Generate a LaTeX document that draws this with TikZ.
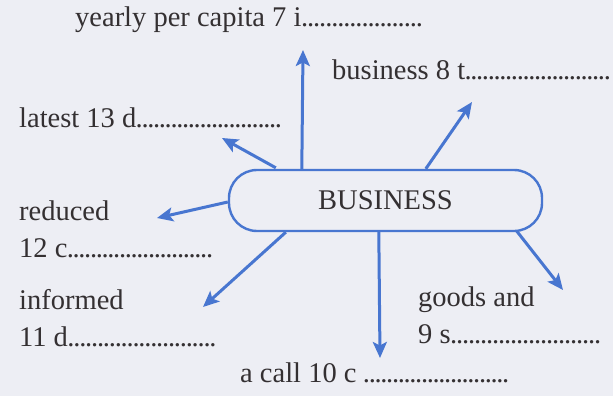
\documentclass[tikz,border=0pt]{standalone}
\usepackage{fontspec}
\setmainfont{Liberation Serif}
\definecolor{mpaper}{RGB}{237,238,244}
\definecolor{mink}{RGB}{52,48,50}
\definecolor{marrow}{RGB}{72,118,208}
\usetikzlibrary{arrows.meta,positioning,calc}
\newcommand\blank[1]{\hbox to #1pt{\xleaders\hbox to 5.8pt{\hss.\hss}\hfill}}
\tikzset{
  hub/.style={rectangle,rounded corners=28pt,draw=marrow,line width=2.4pt,
    minimum width=313pt,minimum height=61pt,inner sep=0pt,
    font=\fontsize{28.5}{37}\selectfont,text=mink},
  gap/.style={anchor=base west,inner sep=0pt,align=left,
    font=\fontsize{28.5}{37}\selectfont,text=mink},
  arr/.style={-{Stealth[length=16pt,width=14pt,inset=3.5pt]},line width=3pt,draw=#1},
}
\begin{document}
\begin{tikzpicture}[x=1pt,y=-1pt]
  \fill[mpaper] (0,0) rectangle (613,396);
  \useasboundingbox (0,0) rectangle (613,396);

  \node[hub] (biz) at (385.5,200.5) {BUSINESS};

  % labels, multi-line ones sit on their last line
  \node[gap] (income) at (75,27) {yearly per capita 7 i\blank{121}};
  \node[gap] (turnover) at (332,80) {business 8 t\blank{145}};
  \node[gap] (dev) at (19,127) {latest 13 d\blank{145}};
  \node[gap] (costs) at (19,257) {reduced\\12 c\blank{145}};
  \node[gap] (decis) at (19,346) {informed\\11 d\blank{148}};
  \node[gap] (serv) at (418,343) {goods and\\9 s\blank{150}};
  \node[gap] (call) at (240,382) {a call 10 c \blank{145}};

  \coordinate (t7) at (303,50);
  \coordinate (t8) at (472,102);
  \coordinate (t13) at (222,138);
  \coordinate (t12) at (157,218);
  \coordinate (t11) at (203,307);
  \coordinate (t10) at (380,358);
  \coordinate (t9) at (563,290);

  \draw[arr=marrow] ([xshift=74pt]biz.north west) -- (t7);
  \draw[arr=marrow] ([xshift=198pt]biz.north west) -- (t8);
  \draw[arr=marrow] ([xshift=48pt,yshift=1pt]biz.north west) -- (t13);
  \draw[arr=marrow] ([yshift=-1.5pt]biz.west) -- (t12);
  \draw[arr=marrow] ([xshift=58pt]biz.south west) -- (t11);
  \draw[arr=marrow] ([xshift=151pt]biz.south west) -- (t10);
  \draw[arr=marrow] ([xshift=289pt,yshift=1pt]biz.south west) -- (t9);
\end{tikzpicture}
\end{document}
